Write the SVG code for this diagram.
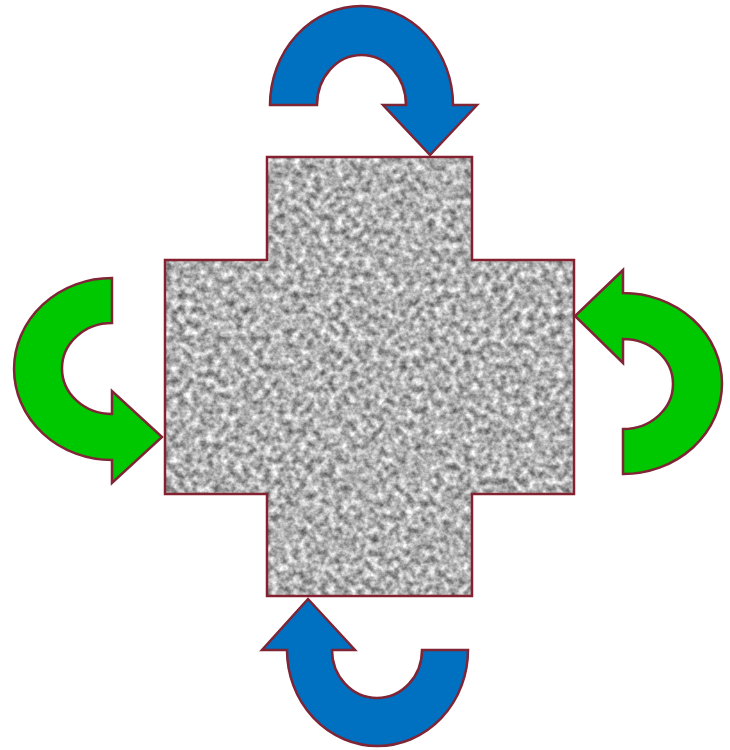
<svg xmlns="http://www.w3.org/2000/svg" width="730" height="750" viewBox="0 0 730 750">
  <style>
    .outline { fill: none; stroke: #84202F; stroke-width: 2.5; stroke-linejoin: miter; }
    .arrow { stroke: #7F2535; stroke-width: 2.5; stroke-linejoin: miter; }
    .blue { fill: #0070C0; }
    .green { fill: #00C800; }
  </style>
  <defs>
    <filter id="granite" x="0" y="0" width="1" height="1" filterUnits="objectBoundingBox" color-interpolation-filters="sRGB">
      <feTurbulence type="fractalNoise" baseFrequency="0.14" numOctaves="3" seed="7" result="noise"/>
      <feColorMatrix in="noise" type="matrix" values="0.95 0 0 0 0.22  0.95 0 0 0 0.22  0.95 0 0 0 0.22  0 0 0 0 1" result="gray"/>
      <feComposite in="gray" in2="SourceGraphic" operator="in"/>
    </filter>
  </defs>
  <rect width="730" height="750" fill="#FFFFFF"/>
  <g id="cross">
    <path d="M267,157 H472 V260 H574 V494 H472 V596 H267 V494 H165 V260 H267 Z" fill="#000" filter="url(#granite)"/>
    <path class="outline" d="M267,157 H472 V260 H574 V494 H472 V596 H267 V494 H165 V260 H267 Z"/>
  </g>
  <g id="arrows">
    <g id="arrow-top">
      <path class="arrow blue" d="M270,105 A91.5,99 0 0 1 453,105 L477,105 L430,155 L383,105 L406,105 A44.5,50 0 0 0 317,105 Z"/>
    </g>
    <g id="arrow-right">
      <path class="arrow green" d="M623,474 A99,90.5 0 0 0 623,293 L623,270 L575,316 L623,363 L623,339 A50,45 0 0 1 623,429 Z"/>
    </g>
    <g id="arrow-bottom">
      <path class="arrow blue" d="M468,650 A90.5,96 0 0 1 287,650 L262,650 L308,599 L355,650 L332,650 A45,48 0 0 0 422,650 Z"/>
    </g>
    <g id="arrow-left">
      <path class="arrow green" d="M112,278 A98,91 0 0 0 112,460 L112,483 L162,437 L112,391 L112,414 A50,45.5 0 0 1 112,323 Z"/>
    </g>
  </g>
</svg>
